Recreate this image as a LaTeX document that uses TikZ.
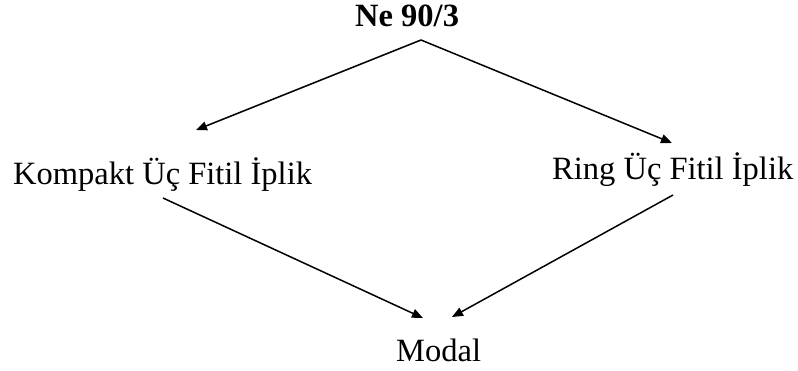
\documentclass[tikz,border=0pt]{standalone}
\usepackage{fontspec}
\setmainfont{Liberation Serif}
\usetikzlibrary{arrows.meta}
\begin{document}
\begin{tikzpicture}[x=1pt,y=-1pt,
  lbl/.style={inner sep=0pt,anchor=base west,font=\fontsize{32.5}{36}\selectfont},
  arr/.style={line width=1.5pt,-{Triangle[length=11pt,width=9pt]}}]
\useasboundingbox (0,0) rectangle (798,370);
\node[lbl,font=\fontsize{32.5}{36}\selectfont\bfseries] (ne) at (355,26) {Ne 90/3};
\node[lbl] (kom) at (13,184) {Kompakt Üç Fitil İplik};
\node[lbl] (ring) at (552,179) {Ring Üç Fitil İplik};
\node[lbl] (mod) at (396,361) {Modal};
\coordinate (top) at (421,40);
\coordinate (kin) at (196,130);
\coordinate (rin) at (672,143);
\coordinate (kout) at (163,198);
\coordinate (rout) at (673,195);
\coordinate (mina) at (423,318);
\coordinate (minb) at (452,317);
\draw[arr] (top) -- (kin);
\draw[arr] (top) -- (rin);
\draw[arr] (kout) -- (mina);
\draw[arr] (rout) -- (minb);
\end{tikzpicture}
\end{document}
